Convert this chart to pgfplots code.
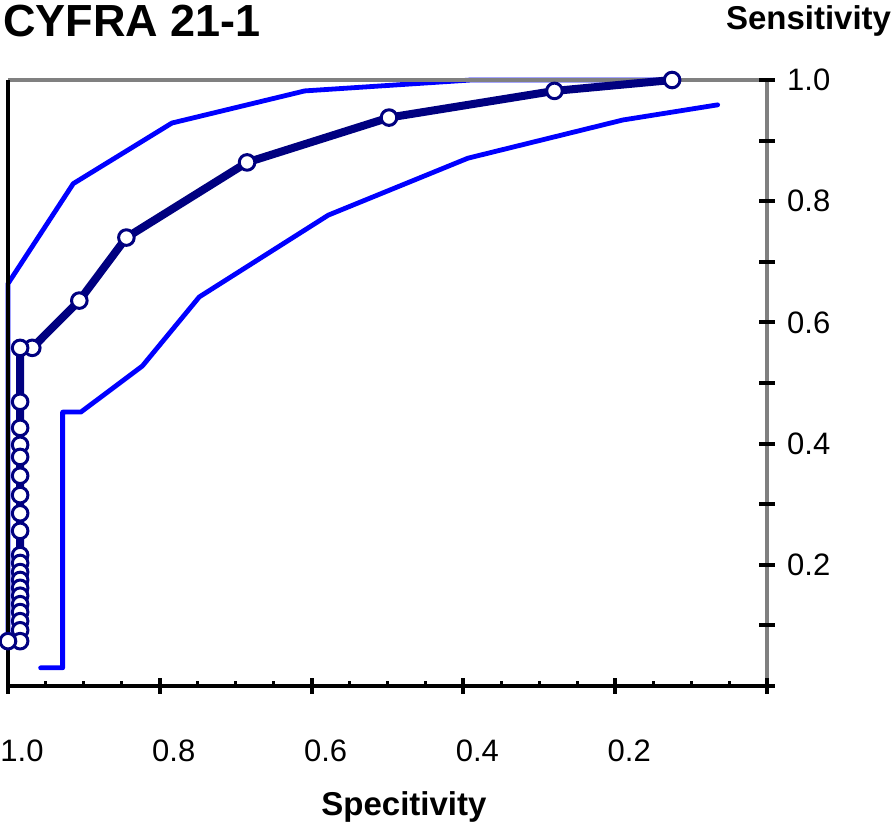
\documentclass[border=0pt]{standalone}
\usepackage{fontspec}
\setmainfont{Liberation Sans}
\usepackage{pgfplots}
\pgfplotsset{compat=1.18}
\definecolor{navyc}{RGB}{0,0,128}
\definecolor{bluec}{RGB}{0,0,255}
\definecolor{grayc}{RGB}{128,128,128}
\begin{document}
\begin{tikzpicture}
\begin{axis}[
  scale only axis, width=379.5pt, height=303pt,
  at={(0,0)}, anchor=south west,
  x dir=reverse, xmin=0, xmax=1, ymin=0, ymax=1,
  clip=false, axis on top=true,
  axis line style={draw=none},
  xtick={0,0.2,0.4,0.6,0.8,1.0},
  xticklabels={,0.2,0.4,0.6,0.8,1.0},
  minor xtick={0.05,0.1,0.15,0.25,0.3,0.35,0.45,0.5,0.55,0.65,0.7,0.75,0.85,0.9,0.95},
  ytick={0,0.1,0.2,0.3,0.4,0.5,0.6,0.7,0.8,0.9,1.0},
  yticklabels={,,0.2,,0.4,,0.6,,0.8,,1.0},
  xtick pos=left, ytick pos=right,
  xticklabel pos=left, yticklabel pos=right,
  tick align=center,
  major tick length=7.75pt,
  minor tick length=2.5pt,
  every major tick/.append style={black, line width=2pt},
  every minor tick/.append style={black, line width=1.5pt, yshift=1.25pt},
  /pgf/number format/assume math mode=true,
  tick label style={font=\fontsize{15.5}{18}\selectfont, inner sep=0pt},
  xticklabel style={anchor=north, yshift=-23pt, xshift=7pt},
  yticklabel style={anchor=west, xshift=6pt},
  title={CYFRA 21-1},
  every axis title/.style={font=\bfseries\fontsize{22.5}{27}\selectfont, inner sep=0pt, anchor=base west, at={(axis description cs:-0.0066,1.0710)}},
  xlabel={Specitivity},
  every axis x label/.style={font=\bfseries\fontsize{16.5}{20}\selectfont, inner sep=0pt, anchor=base, at={(axis description cs:0.5217,-0.2145)}},
  ylabel={Sensitivity},
  every axis y label/.style={font=\bfseries\fontsize{16.5}{20}\selectfont, inner sep=0pt, anchor=base east, at={(axis description cs:1.164,1.084)}},
]
% confidence bands
\addplot[bluec, line width=2.4pt, line cap=round, line join=round, mark=none] coordinates {
  (1.0,0.074) (1.0,0.664) (0.914,0.829) (0.784,0.929) (0.609,0.982) (0.39,1.0) (0.125,1.0)
};
\addplot[bluec, line width=2.4pt, line cap=round, line join=round, mark=none] coordinates {
  (0.957,0.030) (0.928,0.030) (0.928,0.452) (0.904,0.452) (0.823,0.528) (0.748,0.642)
  (0.578,0.777) (0.394,0.871) (0.190,0.934) (0.065,0.959)
};
% frame
\draw[grayc, line width=2.4pt] (axis cs:1,1) -- (axis cs:0,1) -- (axis cs:0,0);
\draw[black, line width=2.4pt] (axis cs:1,1) -- (axis cs:1,0) -- (axis cs:0,0);
% ROC curve
\addplot[navyc, line width=4pt, line join=round, mark=*,
  mark size=3.9pt, mark options={line width=1.5pt, fill=white, draw=navyc}] coordinates {
  (0.125,1.0) (0.280,0.982) (0.498,0.938) (0.685,0.864) (0.844,0.740) (0.906,0.636)
  (0.968,0.558) (0.984,0.558) (0.984,0.469) (0.984,0.426) (0.984,0.398) (0.984,0.378)
  (0.984,0.347) (0.984,0.315) (0.984,0.285) (0.984,0.256) (0.984,0.216) (0.984,0.203)
  (0.984,0.188) (0.984,0.175) (0.984,0.162) (0.984,0.149) (0.984,0.135) (0.984,0.122)
  (0.984,0.107) (0.984,0.092) (0.984,0.074) (1.0,0.074)
};
\end{axis}
\pgfresetboundingbox
\path[use as bounding box] ([shift={(-4pt,-70.5pt)}]current axis.south west) rectangle ++(447.5pt,413.5pt);
\end{tikzpicture}
\end{document}
